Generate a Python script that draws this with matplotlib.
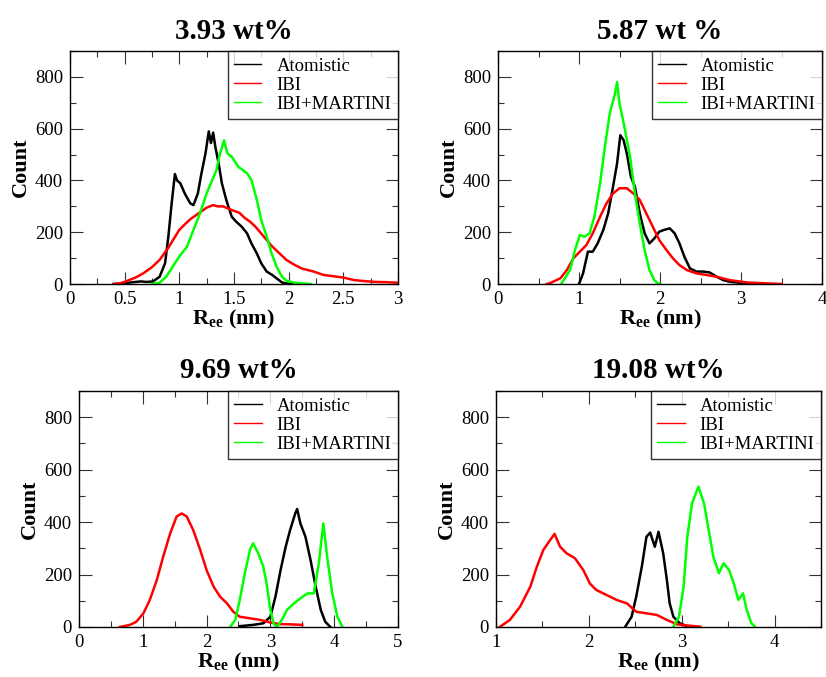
import numpy as np
import matplotlib
matplotlib.use('Agg')
import matplotlib.pyplot as plt
from matplotlib.ticker import MultipleLocator, FormatStrFormatter

plt.rcParams['font.family'] = ['Liberation Serif', 'DejaVu Serif']
plt.rcParams['mathtext.fontset'] = 'custom'
plt.rcParams['mathtext.rm'] = 'Liberation Serif'
plt.rcParams['mathtext.bf'] = 'Liberation Serif:bold'

# Distribuicoes de R_ee (nm, contagem)
# 3.93 wt%
a1_x = [0.40, 0.50, 0.60, 0.65, 0.70, 0.76, 0.82, 0.87, 0.90, 0.93, 0.96, 0.98, 1.01, 1.05, 1.10, 1.13, 1.17, 1.20,
        1.24, 1.27, 1.29, 1.31, 1.33, 1.36, 1.39, 1.43, 1.48, 1.52, 1.57, 1.62, 1.66, 1.71, 1.75, 1.80, 1.85, 1.89,
        1.94, 1.98, 2.05]
a1_y = [0, 3, 8, 10, 8, 10, 28, 80, 183, 310, 425, 400, 389, 350, 312, 305, 350, 421,
        505, 590, 545, 585, 530, 466, 389, 325, 260, 241, 222, 196, 157, 118, 80, 48, 35, 22,
        6, 2, 0]
i1_x = [0.40, 0.45, 0.50, 0.60, 0.67, 0.75, 0.82, 0.90, 0.95, 1.00, 1.05, 1.10, 1.15, 1.20, 1.25, 1.31, 1.35, 1.40,
        1.48, 1.55, 1.60, 1.65, 1.70, 1.75, 1.80, 1.85, 1.90, 1.98, 2.05, 2.12, 2.23, 2.32, 2.41, 2.50, 2.60, 2.70,
        2.80, 2.90, 3.00]
i1_y = [0, 2, 8, 25, 41, 65, 93, 140, 175, 209, 230, 250, 265, 280, 295, 305, 300, 300,
        286, 275, 255, 240, 220, 195, 170, 145, 125, 93, 75, 60, 48, 35, 30, 25, 15, 11,
        8, 7, 5]
m1_x = [0.75, 0.82, 0.88, 0.94, 1.00, 1.07, 1.13, 1.19, 1.25, 1.30, 1.34, 1.37, 1.41, 1.44, 1.48, 1.54, 1.62, 1.66,
        1.71, 1.75, 1.80, 1.845, 1.89, 1.94, 1.98, 2.05, 2.10, 2.20]
m1_y = [0, 5, 28, 67, 106, 144, 209, 273, 350, 400, 440, 500, 555, 505, 492, 453, 428, 402,
        325, 247, 183, 118, 67, 28, 13, 5, 3, 0]

# 5.87 wt %
a2_x = [1.00, 1.05, 1.11, 1.17, 1.23, 1.30, 1.36, 1.42, 1.47, 1.51, 1.55, 1.59, 1.64, 1.69, 1.75, 1.81, 1.87, 1.93,
        1.99, 2.05, 2.12, 2.18, 2.24, 2.30, 2.37, 2.45, 2.53, 2.61, 2.70, 2.78, 2.86, 3.03, 3.20]
a2_y = [0, 41, 125, 125, 157, 209, 273, 376, 466, 575, 556, 505, 415, 376, 273, 196, 157, 176,
        202, 209, 215, 196, 157, 106, 60, 48, 48, 45, 28, 15, 9, 3, 0]
i2_x = [0.60, 0.64, 0.77, 0.85, 0.93, 1.01, 1.09, 1.17, 1.26, 1.34, 1.42, 1.50, 1.59, 1.67, 1.75, 1.83, 1.91, 1.99,
        2.08, 2.16, 2.24, 2.33, 2.45, 2.57, 2.70, 2.86, 3.07, 3.28, 3.50]
i2_y = [0, 3, 22, 54, 99, 125, 150, 196, 260, 312, 350, 370, 370, 350, 325, 273, 222, 170,
        131, 99, 73, 54, 41, 35, 28, 15, 6, 3, 0]
m2_x = [0.78, 0.89, 0.95, 1.01, 1.07, 1.13, 1.19, 1.26, 1.32, 1.38, 1.44, 1.47, 1.50, 1.56, 1.63, 1.69, 1.75, 1.81,
        1.87, 1.93, 1.97, 2.00]
m2_y = [0, 54, 131, 189, 183, 196, 260, 389, 531, 660, 730, 780, 698, 608, 492, 350, 234, 131,
        54, 15, 3, 0]

# 9.69 wt%
a3_x = [2.52, 2.73, 2.89, 3.00, 3.08, 3.16, 3.24, 3.31, 3.39, 3.42, 3.47, 3.55, 3.63, 3.71, 3.79, 3.86, 3.94]
a3_y = [3, 8, 14, 39, 116, 217, 306, 370, 433, 450, 395, 344, 255, 154, 65, 20, 0]
i3_x = [0.64, 0.80, 0.90, 1.01, 1.11, 1.22, 1.32, 1.43, 1.53, 1.61, 1.69, 1.79, 1.90, 2.00, 2.11, 2.21, 2.32, 2.42,
        2.52, 2.68, 2.84, 3.00, 3.15, 3.31, 3.50]
i3_y = [0, 8, 20, 52, 103, 179, 268, 357, 421, 433, 421, 370, 294, 217, 154, 116, 90, 58,
        39, 33, 27, 17, 11, 10, 8]
m3_x = [2.37, 2.45, 2.52, 2.60, 2.68, 2.73, 2.81, 2.89, 2.94, 3.00, 3.05, 3.10, 3.18, 3.26, 3.37, 3.47, 3.58, 3.68,
        3.76, 3.83, 3.89, 3.97, 4.05, 4.13]
m3_y = [0, 27, 103, 205, 294, 319, 281, 230, 167, 65, 14, 0, 27, 65, 90, 109, 128, 128,
        243, 395, 268, 128, 39, 0]

# 19.08 wt%
a4_x = [2.39, 2.46, 2.51, 2.57, 2.62, 2.66, 2.71, 2.75, 2.80, 2.84, 2.87, 2.91, 2.98, 3.05]
a4_y = [0, 39, 116, 230, 344, 360, 306, 363, 281, 179, 90, 39, 14, 4]
i4_x = [1.04, 1.15, 1.26, 1.37, 1.44, 1.51, 1.58, 1.63, 1.69, 1.76, 1.85, 1.94, 2.01, 2.08, 2.19, 2.30, 2.41, 2.51,
        2.62, 2.73, 2.84, 2.95, 3.05, 3.20]
i4_y = [0, 27, 78, 154, 230, 294, 330, 355, 306, 281, 262, 217, 166, 141, 122, 103, 90, 58,
        52, 46, 27, 10, 6, 1]
m4_x = [2.91, 2.97, 3.02, 3.06, 3.11, 3.18, 3.24, 3.29, 3.34, 3.40, 3.45, 3.51, 3.56, 3.61, 3.66, 3.70, 3.75, 3.79]
m4_y = [0, 39, 154, 344, 471, 535, 471, 370, 268, 205, 243, 217, 166, 103, 128, 65, 14, 0]

titles = ['3.93 wt%', '5.87 wt %', '9.69 wt%', '19.08 wt%']
labels = ['Atomistic', 'IBI', 'IBI+MARTINI']
colors = ['black', '#ff0000', '#00ff00']
xlims = [(0, 3), (0, 4), (0, 5), (1, 4.5)]
xmajor = [0.5, 1, 1, 1]

series = [
    [(a1_x, a1_y), (i1_x, i1_y), (m1_x, m1_y)],
    [(a2_x, a2_y), (i2_x, i2_y), (m2_x, m2_y)],
    [(a3_x, a3_y), (i3_x, i3_y), (m3_x, m3_y)],
    [(a4_x, a4_y), (i4_x, i4_y), (m4_x, m4_y)],
]

# posicoes dos paineis em fracao da figura
boxes = [
    [0.0847, 0.5805, 0.397, 0.344],
    [0.6029, 0.5805, 0.3923, 0.344],
    [0.0956, 0.0739, 0.3862, 0.3486],
    [0.6005, 0.0739, 0.3935, 0.3486],
]

fig = plt.figure(figsize=(8.26, 6.77), dpi=100)

for k in range(4):
    ax = fig.add_axes(boxes[k])
    for (x, y), lab, c in zip(series[k], labels, colors):
        ax.plot(x, y, color=c, lw=1.8, label=lab)
    ax.set_xlim(*xlims[k])
    ax.set_ylim(0, 900)
    ax.xaxis.set_major_locator(MultipleLocator(xmajor[k]))
    ax.xaxis.set_minor_locator(MultipleLocator(xmajor[k] / 2))
    ax.xaxis.set_major_formatter(FormatStrFormatter('%g'))
    ax.yaxis.set_minor_locator(MultipleLocator(100))
    ax.set_yticks([0, 200, 400, 600, 800])
    ax.tick_params(which='both', direction='in', top=True, right=True, labelsize=13.5, pad=5, width=0.8,
                   color='#333333')
    ax.tick_params(which='major', length=9)
    ax.tick_params(which='minor', length=4.5)
    for s in ax.spines.values():
        s.set_linewidth(1.0)
    ax.set_title(titles[k], fontsize=21, fontweight='bold', pad=9)
    ax.set_ylabel('Count', fontsize=16, fontweight='bold', labelpad=3)
    ax.set_xlabel(r'$\mathbf{R_{ee}}$ (nm)', fontsize=16, fontweight='bold', labelpad=0)
    leg = ax.legend(loc='upper right', borderaxespad=0, fancybox=False, edgecolor='black', fontsize=13.5,
                    handlelength=1.45, handletextpad=0.8, labelspacing=0.1, borderpad=0.35)
    leg.get_frame().set_linewidth(1.0)
    for h in leg.get_lines():
        h.set_linewidth(1.0)

fig.savefig('out.png', dpi=100)
